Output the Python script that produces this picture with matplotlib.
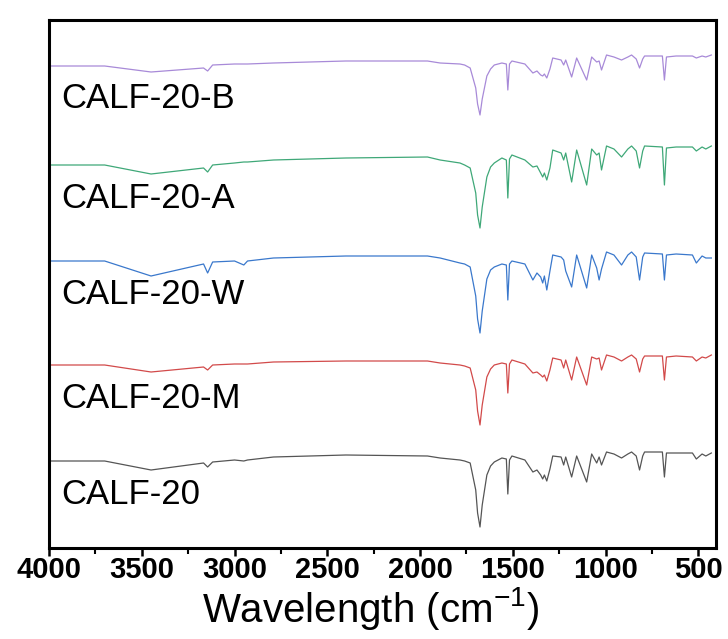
import numpy as np
import matplotlib
matplotlib.use('Agg')
import matplotlib.pyplot as plt
from matplotlib.ticker import MultipleLocator

plt.rcParams['font.family'] = ['Liberation Sans', 'DejaVu Sans']
plt.rcParams['mathtext.fontset'] = 'custom'
plt.rcParams['mathtext.rm'] = 'Liberation Sans'
plt.rcParams['mathtext.it'] = 'Liberation Sans:italic'

# wavenumber points (cm-1)
wavenumber = [4000, 3700, 3450, 3167, 3145, 3118, 3000, 2950, 2930, 2790, 2400, 1960,
              1892, 1785, 1760, 1730, 1700, 1690, 1677, 1665, 1640, 1620, 1600, 1559,
              1535, 1527, 1518, 1505, 1435, 1392, 1370, 1350, 1339, 1330, 1317, 1300,
              1285, 1240, 1226, 1215, 1183, 1156, 1102, 1075, 1048, 1035, 1022, 995,
              955, 914, 880, 860, 835, 817, 800, 790, 694, 683, 672, 620, 532, 511,
              480, 460, 430]

# relative transmittance (a.u.), each spectrum relative to its 4000 cm-1 level
calf20 = [0, 0, -9, -2, -6, -1, 1, 0, 1, 4, 6, 5,
          3, 1, 0, -2, -29, -52, -66, -44, -14, -5, -1, 3,
          2, -33, 1, 5, 1, -11, -9, -14, -18, -14, -20, -8,
          5, 4, -4, 4, -16, 5, -21, 7, -2, 4, -4, 9,
          7, 3, 7, 9, 5, -9, 5, 9, 9, -16, 8, 8, 8, 2,
          7, 5, 8]
calf20_m = [0, 0, -7, -2, -5, 0, 1, 1, 1, 3, 4, 4,
            2, 0, -1, -3, -25, -46, -60, -40, -12, -4, 0, 2,
            1, -28, 1, 5, 1, -8, -7, -10, -12, -10, -16, -5,
            7, 5, -3, 5, -15, 8, -20, 8, 6, 7, -5, 10,
            8, 4, 8, 10, 6, -7, 6, 9, 9, -15, 8, 9, 8, 4,
            8, 7, 10]
calf20_w = [0, 0, -15, -3, -12, -1, 0, -4, 0, 3, 5, 5,
            3, -2, -3, -6, -35, -58, -72, -50, -18, -9, -6, -3,
            -4, -39, -3, 0, -3, -19, -12, -16, -22, -15, -29, -10,
            6, 4, 1, -10, -26, 6, -27, 6, -7, -19, -8, 9,
            6, -4, 6, 9, 4, -19, 4, 8, 7, -19, 6, 7, 6, -2,
            5, 3, 3]
calf20_a = [0, 0, -9, -3, -7, 0, 2, 3, 3, 5, 7, 8,
            5, 2, 0, -3, -28, -50, -63, -42, -12, -2, 2, 7,
            5, -33, 6, 10, 5, -2, -1, -8, -12, -8, -15, -3,
            15, 12, 5, 12, -17, 15, -20, 16, 10, 12, -5, 19,
            16, 8, 16, 19, 14, -3, 14, 19, 18, -20, 17, 18, 18, 14,
            18, 16, 19]
calf20_b = [0, 0, -6, -2, -5, 1, 2, 2, 2, 3, 5, 5,
            3, 2, 1, -2, -22, -38, -49, -33, -10, -3, 1, 3,
            2, -24, 2, 5, 2, -7, -5, -9, -10, -8, -12, -3,
            8, 6, 1, 6, -11, 8, -14, 9, 4, 5, -4, 11,
            9, 6, 9, 11, 7, -2, 7, 10, 10, -14, 9, 10, 10, 8,
            10, 9, 11]

names = ['CALF-20', 'CALF-20-M', 'CALF-20-W', 'CALF-20-A', 'CALF-20-B']
offsets = [87, 183, 287, 383, 482]
colors = ['#555555', '#d24a4a', '#3a78cc', '#3fa878', '#a88ad8']
spectra = [calf20, calf20_m, calf20_w, calf20_a, calf20_b]

fig = plt.figure(figsize=(7.28, 6.39), dpi=100)
ax = fig.add_axes([49 / 728, 91 / 639, 667 / 728, 528 / 639])

for name, off, col, spec in zip(names, offsets, colors, spectra):
    ax.plot(wavenumber, np.array(spec) + off, color=col, lw=0.9)
    ax.text(3935, off - 33, name, fontsize=25, va='center', ha='left')

ax.set_xlim(4000, 405)
ax.set_ylim(0, 528)
ax.xaxis.set_major_locator(MultipleLocator(500))
ax.xaxis.set_minor_locator(MultipleLocator(250))
ax.set_yticks([])
ax.tick_params(axis='x', which='major', direction='out', length=6, width=1.8,
               labelsize=21, pad=0)
ax.tick_params(axis='x', which='minor', direction='out', length=4, width=1.5)
for lab in ax.get_xticklabels():
    lab.set_fontweight('bold')
for sp in ax.spines.values():
    sp.set_linewidth(2.2)
ax.set_xlabel('Wavelength (cm$^{-1}$)', fontsize=29, labelpad=0)
ax.xaxis.set_label_coords(0.482, -0.07, transform=ax.transAxes)
ax.xaxis.label.set_va('top')

plt.savefig('out.png', dpi=100)
